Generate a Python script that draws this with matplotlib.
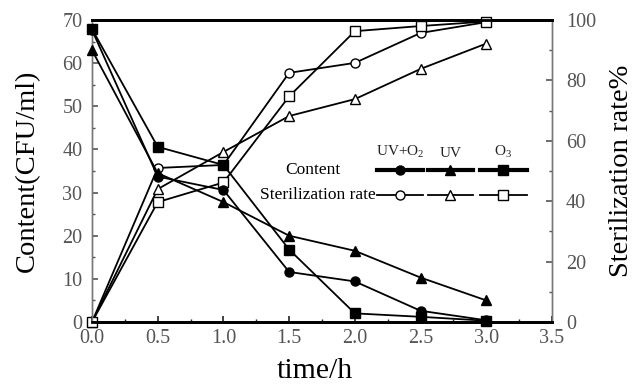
import matplotlib
matplotlib.use("Agg")
import matplotlib.pyplot as plt
from matplotlib.ticker import MultipleLocator

plt.rcParams['font.family'] = ['Liberation Serif', 'DejaVu Serif']
plt.rcParams['mathtext.fontset'] = 'custom'
plt.rcParams['mathtext.rm'] = 'Liberation Serif'

time = [0.0, 0.5, 1.0, 1.5, 2.0, 2.5, 3.0]
content_uvo2 = [67.7, 33.7, 30.6, 11.6, 9.4, 2.6, 0.4]
content_uv = [63.0, 34.5, 27.8, 20.0, 16.5, 10.3, 5.0]
content_o3 = [67.9, 40.6, 36.4, 16.8, 2.0, 1.2, 0.3]
rate_uvo2 = [0.0, 51.0, 52.0, 82.5, 85.8, 95.7, 99.3]
rate_uv = [0.0, 44.0, 56.3, 68.2, 73.8, 83.8, 92.2]
rate_o3 = [0.0, 39.7, 46.2, 74.7, 96.3, 98.0, 99.5]
series_names = ['UV+O$_2$', 'UV', 'O$_3$']
row_names = ['Content', 'Sterilization rate']

fig = plt.figure(figsize=(6.35, 3.91), dpi=100)
ax = fig.add_axes([92/635, 1-322/391, 460/635, 302/391])
ax2 = ax.twinx()
ax.set_zorder(ax2.get_zorder() + 1)
ax.patch.set_visible(False)

tick_color = '#555555'
ms = 6.5
lw = 1.3
for vals, m in zip([content_uvo2, content_uv, content_o3], ['o', '^', 's']):
    ax.plot(time, vals, color='black', lw=lw, marker=m, ms=ms, mfc='black', mec='black', clip_on=False, zorder=3)
for vals, m in zip([rate_uvo2, rate_uv, rate_o3], ['o', '^', 's']):
    ax2.plot(time, vals, color='black', lw=lw, marker=m, ms=ms, mfc='white', mec='black', clip_on=False, zorder=3)

ax.set_xlim(0, 3.5)
ax.set_ylim(0, 70)
ax2.set_ylim(0, 100)
ax.xaxis.set_major_locator(MultipleLocator(0.5))
ax.xaxis.set_minor_locator(MultipleLocator(0.25))
ax.yaxis.set_major_locator(MultipleLocator(10))
ax.yaxis.set_minor_locator(MultipleLocator(5))
ax2.yaxis.set_major_locator(MultipleLocator(20))
ax2.yaxis.set_minor_locator(MultipleLocator(10))
ax.set_xticklabels([f'{v:.1f}' for v in ax.get_xticks()])

for a in (ax, ax2):
    a.tick_params(which='both', direction='in', colors=tick_color, labelsize=14.5, labelcolor=tick_color)
    a.tick_params(which='major', length=4, width=1.2)
    a.tick_params(which='minor', length=2.5, width=1.0)
    for s in a.spines.values():
        s.set_color('#777777')
        s.set_linewidth(1.0)
    a.spines['bottom'].set_color('black')
    a.spines['bottom'].set_linewidth(2.0)
    a.spines['top'].set_color('black')
    a.spines['top'].set_linewidth(2.0)
ax.tick_params(axis='x', which='both', colors='#222222', labelcolor=tick_color, pad=5)
ax.tick_params(axis='y', pad=7)
ax2.tick_params(axis='y', pad=10)

ax.set_xlabel('time/h', fontsize=21.5, labelpad=7)
ax.xaxis.label.set_x(0.485)
ax.set_ylabel('Content(CFU/ml)', fontsize=20.5, labelpad=16)
ax2.set_ylabel('Sterilization rate%', fontsize=20.5, labelpad=9)

# legend table
tr = ax.transAxes
segs = [(0.62, 0.72), (0.73, 0.828), (0.843, 0.945)]
markers = ['o', '^', 's']
y_content, y_rate, y_head = 0.503, 0.42, 0.535
for (x0, x1), m, name in zip(segs, markers, series_names):
    ax.plot([x0, x1], [y_content]*2, transform=tr, color='black', lw=3.0, clip_on=False)
    ax.plot([(x0+x1)/2], [y_content], transform=tr, marker=m, ms=ms, color='black', clip_on=False)
    ax.plot([x0, x1], [y_rate]*2, transform=tr, color='black', lw=1.3, clip_on=False)
    ax.plot([(x0+x1)/2], [y_rate], transform=tr, marker=m, ms=ms, mfc='white', mec='black', clip_on=False)
    ax.text((x0+x1)/2, y_head, name, transform=tr, ha='center', va='bottom', fontsize=11, color='#222222')
ax.text(0.48, y_content, row_names[0], transform=tr, ha='center', va='center', fontsize=12.5)
ax.text(0.617, y_rate, row_names[1], transform=tr, ha='right', va='center', fontsize=12.5)

fig.savefig('out.png', dpi=100)
